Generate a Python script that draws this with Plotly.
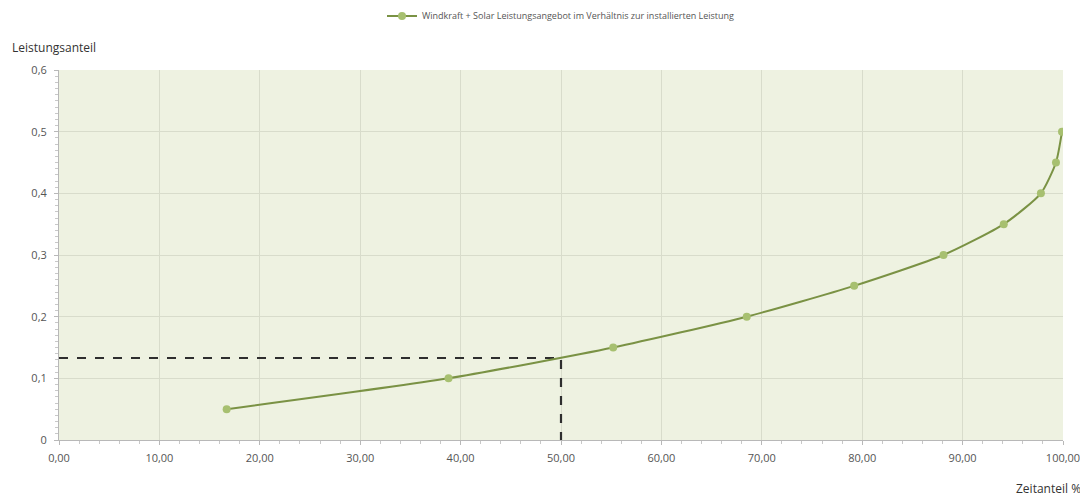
import plotly.graph_objects as go

# Data
zeitanteil = [16.7, 38.8, 55.2, 68.5, 79.2, 88.1, 94.1, 97.8, 99.3, 99.9]
leistungsanteil = [0.05, 0.10, 0.15, 0.20, 0.25, 0.30, 0.35, 0.40, 0.45, 0.50]

# dashed reading line at 50 %
ref_x = [0, 50, 50]
ref_y = [0.133, 0.133, 0]

x_ticks = [0, 10, 20, 30, 40, 50, 60, 70, 80, 90, 100]
x_ticktext = ["0,00", "10,00", "20,00", "30,00", "40,00", "50,00", "60,00", "70,00", "80,00", "90,00", "100,00"]
y_ticks = [0, 0.1, 0.2, 0.3, 0.4, 0.5, 0.6]
y_ticktext = ["0", "0,1", "0,2", "0,3", "0,4", "0,5", "0,6"]

fig = go.Figure()

fig.add_trace(go.Scatter(x=ref_x, y=ref_y, mode='lines',
                         line=dict(color='#2e2e2e', width=2.2, dash='dash'),
                         showlegend=False, hoverinfo='skip'))

fig.add_trace(go.Scatter(x=zeitanteil, y=leistungsanteil, mode='lines+markers',
                         name='Windkraft + Solar Leistungsangebot im Verhältnis zur installierten Leistung',
                         line=dict(color='#7a9244', width=2, shape='spline', smoothing=0.6),
                         marker=dict(color='#a7c070', size=8)))

# the page body adds an 8px margin, so the figure is 1080x491
fig.update_layout(
    width=1080, height=491,
    margin=dict(l=51, r=25, t=62, b=59, autoexpand=False),
    paper_bgcolor='white',
    plot_bgcolor='#eef2e1',
    font=dict(family='Open Sans', size=11, color='#555555'),
    showlegend=True,
    legend=dict(orientation='h', x=0.5, xanchor='center', y=1.146, yanchor='middle',
                font=dict(size=9, color='#555555')),
    xaxis=dict(range=[0, 100], tickvals=x_ticks, ticktext=x_ticktext,
               showgrid=True, gridcolor='#d8dccb', gridwidth=1,
               showline=True, linecolor='#b8b8b8', zeroline=False,
               ticks='outside', ticklen=4, tickcolor='#b8b8b8', ticklabelstandoff=4,
               minor=dict(dtick=2, ticks='outside', ticklen=3, tickcolor='#c8c8c8', showgrid=False)),
    yaxis=dict(range=[0, 0.6], tickvals=y_ticks, ticktext=y_ticktext,
               showgrid=True, gridcolor='#d8dccb', gridwidth=1,
               showline=True, linecolor='#b8b8b8', zeroline=False,
               ticks='outside', ticklen=4, tickcolor='#b8b8b8', ticklabelstandoff=5,
               minor=dict(dtick=0.01, ticks='outside', ticklen=3, tickcolor='#c8c8c8',
                          showgrid=False)),
    annotations=[
        dict(text='Leistungsanteil', x=0, y=1, xref='paper', yref='paper',
             xshift=-49, yshift=23, xanchor='left', yanchor='middle', showarrow=False,
             font=dict(size=12, color='#333333')),
        dict(text='Zeitanteil %', x=1, y=0, xref='paper', yref='paper',
             xshift=20, yshift=-48, xanchor='right', yanchor='middle', showarrow=False,
             font=dict(size=12, color='#333333')),
    ],
)

fig.write_html("out.html")
